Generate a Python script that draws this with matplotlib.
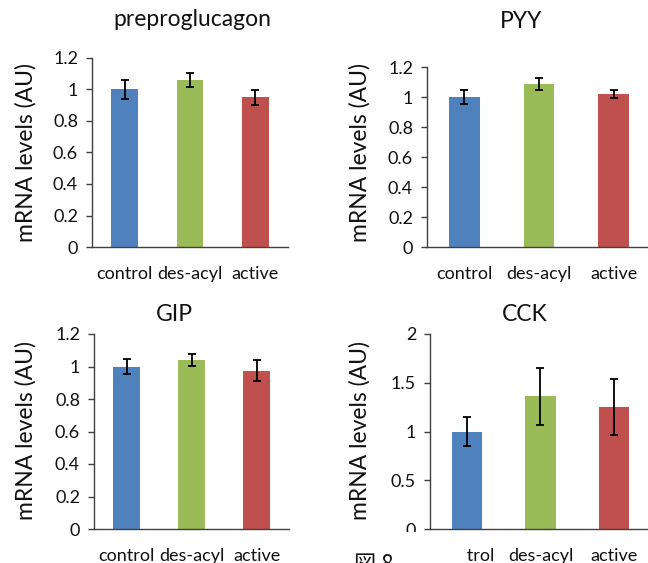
import matplotlib
matplotlib.use("Agg")
import matplotlib.pyplot as plt
from matplotlib.patches import Rectangle

plt.rcParams['font.family'] = ['Lato', 'Noto Sans CJK JP', 'DejaVu Sans']

categories = ["control", "des-acyl", "active"]
colors = ["#4F81BD", "#9BBB59", "#C0504D"]

titles = ["preproglucagon", "PYY", "GIP", "CCK"]
means = {
    "preproglucagon": [1.00, 1.06, 0.95],
    "PYY": [1.00, 1.085, 1.02],
    "GIP": [1.00, 1.04, 0.975],
    "CCK": [1.00, 1.36, 1.25],
}
errors = {
    "preproglucagon": [0.06, 0.045, 0.048],
    "PYY": [0.046, 0.040, 0.025],
    "GIP": [0.045, 0.037, 0.062],
    "CCK": [0.145, 0.29, 0.29],
}
yticks = {
    "preproglucagon": [0, 0.2, 0.4, 0.6, 0.8, 1.0, 1.2],
    "PYY": [0, 0.2, 0.4, 0.6, 0.8, 1.0, 1.2],
    "GIP": [0, 0.2, 0.4, 0.6, 0.8, 1.0, 1.2],
    "CCK": [0, 0.5, 1.0, 1.5, 2.0],
}
ytick_labels = {
    "preproglucagon": ["0", "0.2", "0.4", "0.6", "0.8", "1", "1.2"],
    "PYY": ["0", "0.2", "0.4", "0.6", "0.8", "1", "1.2"],
    "GIP": ["0", "0.2", "0.4", "0.6", "0.8", "1", "1.2"],
    "CCK": ["0", "0.5", "1", "1.5", "2"],
}
ylabel = "mRNA levels (AU)"
caption = "図 8"

W, H = 648, 563
fig = plt.figure(figsize=(W / 100, H / 100), dpi=100)

def px_rect(l, r, top, bottom):
    return [l / W, (H - bottom) / H, (r - l) / W, (bottom - top) / H]

# axes rectangles in pixels: left, right, top (ymax), bottom (y=0)
layout = {
    "preproglucagon": dict(rect=px_rect(92, 288, 58, 247), tx=0.51, tpad=23, lab=(26, 153)),
    "PYY": dict(rect=px_rect(427, 651, 67, 247), tx=0.42, tpad=28, lab=(360, 153)),
    "GIP": dict(rect=px_rect(94, 289, 334, 529), tx=0.415, tpad=9.5, lab=(26, 431)),
    "CCK": dict(rect=px_rect(430, 651, 334, 529), tx=0.428, tpad=9.5, lab=(360, 431)),
}

TXT = "#111111"
for name in titles:
    cfg = layout[name]
    ax = fig.add_axes(cfg["rect"])
    x = range(len(categories))
    ax.bar(x, means[name], width=0.41, color=colors, zorder=2)
    ax.errorbar(x, means[name], yerr=errors[name], fmt='none', ecolor='black',
                elinewidth=1.3, capsize=3, capthick=1.3, zorder=3)
    yt = yticks[name]
    ax.set_ylim(0, yt[-1])
    ax.set_xlim(-0.5, 2.5)
    ax.set_yticks(yt)
    ax.set_yticklabels(ytick_labels[name])
    ax.set_xticks(list(x))
    ax.set_xticklabels(categories)
    for s in ["top", "right"]:
        ax.spines[s].set_visible(False)
    for s in ["left", "bottom"]:
        ax.spines[s].set_color("#404040")
        ax.spines[s].set_linewidth(1.0)
    ax.tick_params(axis='y', length=4, width=1.0, color="#404040", pad=6,
                   labelsize=13, labelcolor=TXT)
    ax.tick_params(axis='x', length=0, pad=14, labelsize=13, labelcolor=TXT)
    ax.set_title(name, x=cfg["tx"], pad=cfg["tpad"], fontsize=16.5, color=TXT)
    lx, ly = cfg["lab"]
    fig.text(lx / W, (H - ly) / H, ylabel, rotation=90, ha='center', va='center',
             fontsize=16.5, color=TXT)

# caption area covering part of the bottom-right chart
fig.add_artist(Rectangle((345 / W, 0), (467 - 345) / W, (H - 532) / H,
                         transform=fig.transFigure, facecolor='white',
                         edgecolor='none', zorder=5))
fig.text(354 / W, (H - 553) / H, caption, ha='left', va='top', fontsize=16,
         color=TXT, zorder=6,
         family=['Noto Sans CJK JP', 'DejaVu Sans'])

fig.savefig("out.png", dpi=100)
